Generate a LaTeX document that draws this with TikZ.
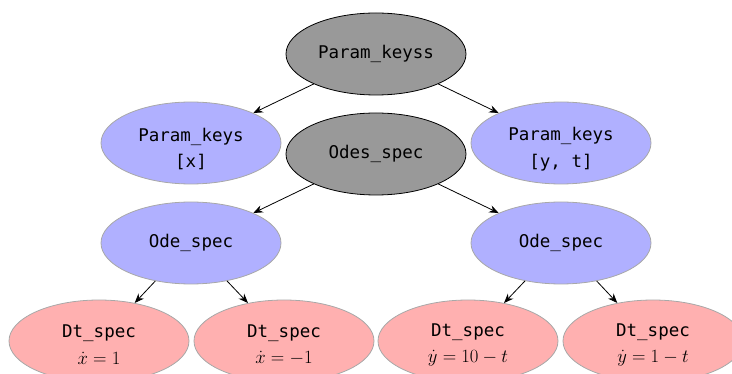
\RequirePackage{fix-cm}
\documentclass[tikz,border=0pt]{standalone}
\usepackage{fontspec}
\usetikzlibrary{shapes.geometric,arrows.meta}
\newfontfamily\dmono{DejaVu Sans Mono}
\definecolor{grayfill}{HTML}{999999}
\definecolor{bluefill}{HTML}{B0B0FF}
\definecolor{pinkfill}{HTML}{FFB0B0}
\definecolor{softedge}{HTML}{A8A8A8}
\newcommand{\mathline}[1]{{\fontsize{18.7}{26.5}\selectfont$#1$}}
\begin{document}
\begin{tikzpicture}[x=1pt,y=-1pt,
  base/.style={ellipse, minimum width=180pt, minimum height=82pt, inner sep=0pt, align=center,
    font=\dmono\fontsize{17.5}{26.5}\selectfont, line width=0.8pt},
  grn/.style={base, draw=black, fill=grayfill},
  bln/.style={base, draw=softedge, fill=bluefill},
  pkn/.style={base, draw=softedge, fill=pinkfill},
  twoa/.style={text height=52pt},
  twob/.style={text height=47pt},
  conn/.style={-{Stealth[length=9.5pt,width=7.5pt]}, line width=0.8pt}]
\useasboundingbox (0,0) rectangle (732,374);
\node[grn] (pks) at (376,54) {Param\_keyss};
\node[bln,twoa] (pkx) at (191,143) {Param\_keys\\{}[x]};
\node[bln,twoa] (pkyt) at (561,143) {Param\_keys\\{}[y, t]};
\node[grn] (odes) at (376,154) {Odes\_spec};
\node[bln] (odel) at (191,243) {Ode\_spec};
\node[bln] (oder) at (561,243) {Ode\_spec};
\node[pkn,twob] (dt1) at (99,341) {Dt\_spec\\\mathline{\dot x = 1}};
\node[pkn,twob] (dt2) at (284,341) {Dt\_spec\\\mathline{\dot x = -1}};
\node[pkn,twob] (dt3) at (468,341) {Dt\_spec\\\mathline{\dot y = 10 - t}};
\node[pkn,twob] (dt4) at (653,341) {Dt\_spec\\\mathline{\dot y = 1 - t}};
\draw[conn] (pks) -- (pkx);
\draw[conn] (pks) -- (pkyt);
\draw[conn] (odes) -- (odel);
\draw[conn] (odes) -- (oder);
\draw[conn] (odel) -- (dt1);
\draw[conn] (odel) -- (dt2);
\draw[conn] (oder) -- (dt3);
\draw[conn] (oder) -- (dt4);
\end{tikzpicture}
\end{document}
